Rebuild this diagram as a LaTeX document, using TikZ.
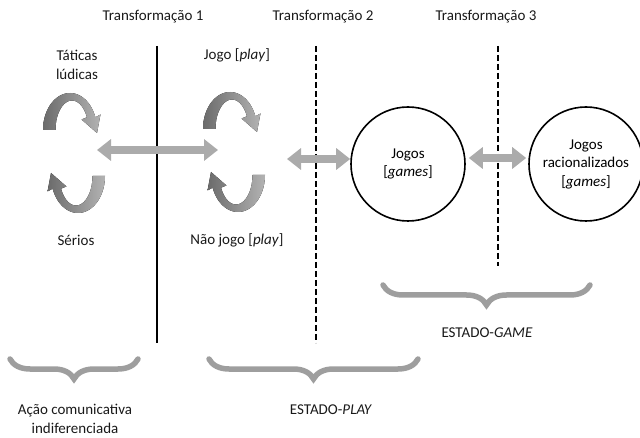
\documentclass[tikz,border=0pt]{standalone}
\usepackage{fontspec}
\setmainfont{Carlito}
\usepackage{tikz}
\usetikzlibrary{positioning,arrows.meta,decorations.pathreplacing}

\tikzset{
  divider/.style={line width=1.8pt},
  dividerdash/.style={line width=1.8pt, dash pattern=on 6pt off 3pt},
  state/.style={circle, draw, line width=1.6pt, minimum size=114pt, align=center, inner sep=0pt},
  lbl/.style={align=center, text=black!90},
  blockarrow/.style={line width=8.5pt, draw=black!33,
    {Triangle[width=21pt,length=14pt]}-{Triangle[width=21pt,length=14pt]}},
  statebrace/.style={line width=5.5pt, draw=black!38, line cap=round,
    decorate, decoration={brace, amplitude=20pt}},
  curlpair/.pic={
    \foreach \r in {0,180}{
      \fill[rotate=\r, left color=black!58, right color=black!30]
        (-31,-23) -- plot[domain=180:20, samples=40] ({-4+27*cos(\x)}, {-23-37*sin(\x)})
        -- (26.5,-38.5) -- (23,-20) -- (7.5,-33.5) -- (13,-35.7)
        -- plot[domain=25:180, samples=40] ({-2+16.5*cos(\x)}, {-23-29.5*sin(\x)}) -- cycle;
    }
  }
}

\begin{document}
\begin{tikzpicture}[x=1pt, y=-1pt, font=\fontsize{15}{18.5}\selectfont]
    \useasboundingbox (0,0) rectangle (640,438);

    % headings
    \node[lbl] (tr1) at (153,17) {Transformação 1};
    \node[lbl] (tr2) at (323,17) {Transformação 2};
    \node[lbl] (tr3) at (486,17) {Transformação 3};

    % dividers
    \draw[divider] (157,46) -- (157,343);
    \draw[dividerdash] (316,46) -- (316,343);
    \draw[dividerdash] (498,46) -- (498,266);

    % play / non-play cycles
    \pic at (74,153) {curlpair};
    \pic at (234,152) {curlpair};
    \node[lbl] (tat) at (77,65) {Táticas\\lúdicas};
    \node[lbl] (ser) at (76,240) {Sérios};
    \node[lbl] (jogo) at (237,55) {Jogo [\textit{play}]};
    \node[lbl] (naojogo) at (237,240) {Não jogo [\textit{play}]};

    % games
    \node[state] (games) at (408,164) {Jogos\\{}[\textit{games}]};
    \node[state] (ratgames) at (586,164) {Jogos\\racionalizados\\{}[\textit{games}]};

    % transitions
    \coordinate (cyc1) at (97,150);
    \coordinate (cyc2) at (218,150);
    \coordinate (cyc3) at (287,159);
    \draw[blockarrow] (cyc1) -- (cyc2);
    \draw[blockarrow] (cyc3) -- (games.west |- cyc3);
    \draw[blockarrow, shorten <=3pt, shorten >=2pt] (games.east |- 0,158) -- (ratgames.west |- 0,158);

    % states
    \draw[statebrace] (590,285) -- (383,285);
    \draw[statebrace] (418,359) -- (209,359);
    \draw[statebrace] (138,359) -- (10,359);
    \node[lbl] (stgame) at (487,333) {ESTADO-\textit{GAME}};
    \node[lbl] (stplay) at (331,410) {ESTADO-\textit{PLAY}};
    \node[lbl] (acao) at (75,419) {Ação comunicativa\\indiferenciada};
\end{tikzpicture}
\end{document}
